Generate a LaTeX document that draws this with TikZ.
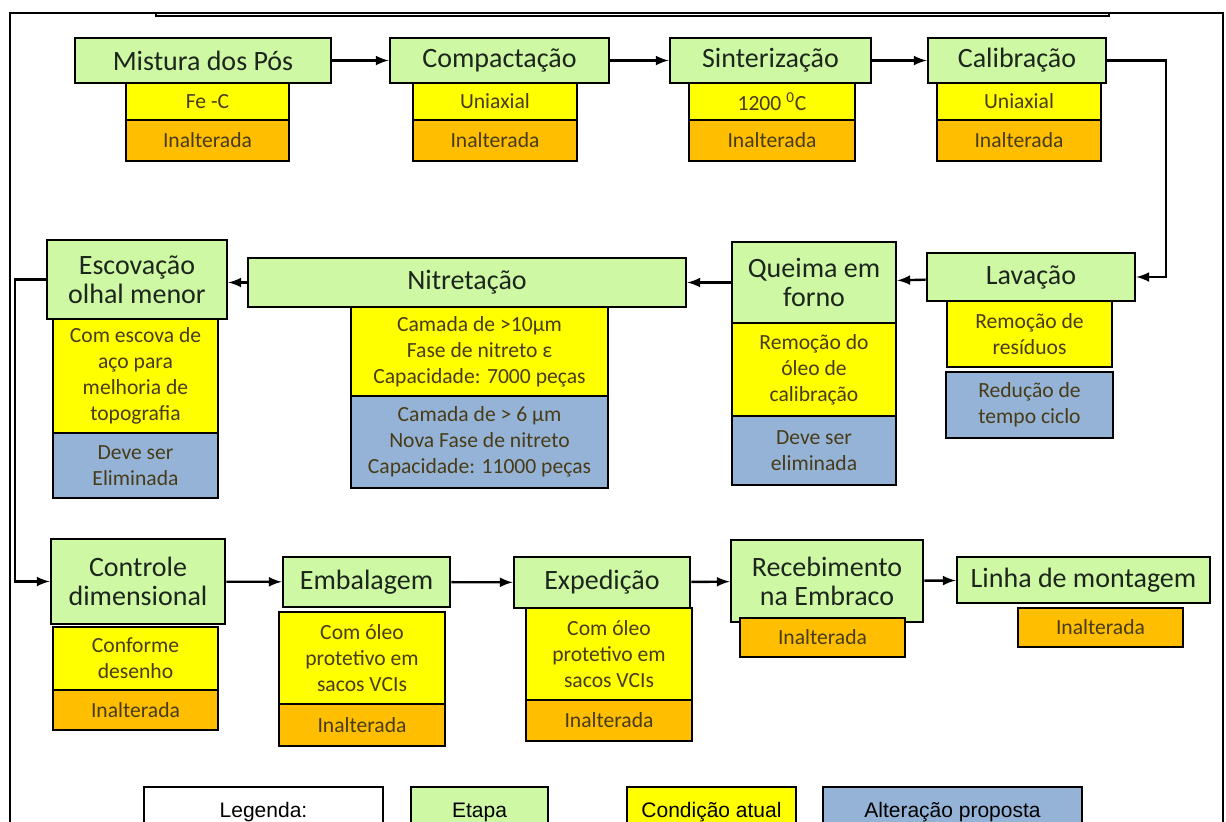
\documentclass[tikz,border=0pt]{standalone}
\usepackage{fontspec}
\setmainfont{Carlito}
\newfontfamily\legfont{Liberation Sans}
\usetikzlibrary{arrows}
\definecolor{etapaverde}{RGB}{206,248,164}
\definecolor{atualamarelo}{RGB}{255,255,0}
\definecolor{inaltlaranja}{RGB}{255,190,0}
\definecolor{propostaazul}{RGB}{149,179,215}
\definecolor{textoescuro}{RGB}{28,38,28}
\definecolor{textosub}{RGB}{72,60,24}

\tikzset{
	sz/.style 2 args={minimum width=#1*0.5pt, minimum height=#2*0.5pt},
	caixa/.style={draw=black, line width=1.3pt, inner sep=1pt, align=center},
	etapa/.style={caixa, fill=etapaverde, text=textoescuro, font=\fontsize{14}{14.5}\selectfont},
	atual/.style={caixa, fill=atualamarelo, text=textosub, font=\fontsize{10.8}{13}\selectfont},
	inalt/.style={caixa, fill=inaltlaranja, text=textosub, font=\fontsize{10.8}{13}\selectfont},
	proposta/.style={caixa, fill=propostaazul, text=textosub, font=\fontsize{10.8}{13}\selectfont},
	legenda/.style={caixa, line width=1.1pt, font=\legfont\fontsize{10.5}{11}\selectfont, text=black}
}

\begin{document}
\begin{tikzpicture}[x=0.5pt, y=-0.5pt, >=latex, line width=1.2pt]
			\useasboundingbox (0,0) rectangle (1226,821);

			% moldura
			\draw[line width=1pt] (10,12.5) rectangle (1223,845);
			\draw[line width=0.8pt] (156,12.5) -- (156,16) -- (1109,16) -- (1109,12.5);

			% linha 1
			\node[etapa, sz={256}{45}] (mistura) at (203,60.5) {Mistura dos Pós};
			\node[atual, sz={163}{37}] (fec) at (207.5,101.5) {Fe -C};
			\node[inalt, sz={163}{41}] (fecIn) at (207.5,140.5) {Inalterada};

			\node[etapa, sz={219}{45}] (compact) at (499.5,60.5) {Compactação};
			\node[atual, sz={164}{37}] (uni1) at (495,101.5) {Uniaxial};
			\node[inalt, sz={164}{41}] (uni1In) at (495,140.5) {Inalterada};

			\node[etapa, sz={201}{45}] (sinter) at (770.5,60.5) {Sinterização};
			\node[atual, sz={166}{37}] (temp) at (772,101.5) {1200 \textsuperscript{0}C};
			\node[inalt, sz={166}{41}] (tempIn) at (772,140.5) {Inalterada};

			\node[etapa, sz={178}{45}] (calib) at (1017,60.5) {Calibração};
			\node[atual, sz={164}{37}] (uni2) at (1019,101.5) {Uniaxial};
			\node[inalt, sz={164}{41}] (uni2In) at (1019,140.5) {Inalterada};

			% linha 2
			\node[etapa, sz={180}{79}] (escov) at (137,279.5) {Escovação\\olhal menor};
			\node[atual, sz={165}{114}] (escYel) at (135.5,376) {Com escova de\\aço para\\melhoria de\\topografia};
			\node[proposta, sz={165}{65}] (escBlue) at (135.5,465.5) {Deve ser\\Eliminada};

			\node[etapa, sz={438}{49}] (nitret) at (467,282.5) {Nitretação};
			\node[atual, sz={257}{89}] (nitYel) at (479.5,351.5) {Camada de >10µm\\Fase de nitreto ε\\Capacidade: 7000 peças};
			\node[proposta, sz={257}{92}] (nitBlue) at (479.5,442) {Camada de > 6 µm\\Nova Fase de nitreto\\Capacidade: 11000 peças};

			\node[etapa, sz={164}{81}] (queima) at (814,282.5) {Queima em\\forno};
			\node[atual, sz={164}{93}] (queYel) at (814,369.5) {Remoção do\\óleo de\\calibração};
			\node[proposta, sz={164}{69}] (queBlue) at (814,450.5) {Deve ser\\eliminada};

			\node[etapa, sz={208}{48}] (lavacao) at (1031,277) {Lavação};
			\node[atual, sz={165}{66}] (lavYel) at (1029.5,334) {Remoção de\\resíduos};
			\node[proposta, sz={167}{66}] (lavBlue) at (1029.5,405) {Redução de\\tempo ciclo};

			% linha 3
			\node[etapa, sz={174}{85}] (controle) at (138,581.5) {Controle\\dimensional};
			\node[atual, sz={165}{63}] (conYel) at (135.5,658.5) {Conforme\\desenho};
			\node[inalt, sz={165}{40}] (conIn) at (135.5,710) {Inalterada};

			\node[etapa, sz={167}{50}] (embal) at (366.5,582) {Embalagem};
			\node[atual, sz={166}{92}] (embYel) at (362,658) {Com óleo\\protetivo em\\sacos VCIs};
			\node[inalt, sz={166}{42}] (embIn) at (362,725) {Inalterada};

			\node[etapa, sz={176}{51}] (exped) at (602,582.5) {Expedição};
			\node[atual, sz={166}{92}] (expYel) at (609,654) {Com óleo\\protetivo em\\sacos VCIs};
			\node[inalt, sz={166}{41}] (expIn) at (609,720.5) {Inalterada};

			\node[etapa, sz={192}{82}] (receb) at (827,581) {Recebimento\\na Embraco};
			\node[inalt, sz={165}{39}] (recIn) at (822.5,637.5) {Inalterada};

			\node[etapa, sz={253}{46}] (linha) at (1083.5,580) {Linha de montagem};
			\node[inalt, sz={165}{39}] (linIn) at (1100.5,627.5) {Inalterada};

			% legenda
			\node[legenda, fill=white, sz={239}{50}] (legTit) at (263.5,812) {Legenda:};
			\node[legenda, fill=etapaverde, sz={137}{50}] (legEtapa) at (479.5,812) {Etapa};
			\node[legenda, fill=atualamarelo, sz={169}{50}] (legAtual) at (711.5,812) {Condição atual};
			\node[legenda, fill=propostaazul, sz={259}{50}] (legProp) at (952.5,812) {Alteração proposta};

			\coordinate (cR) at (1166,60.5);
			\coordinate (cL) at (15,430);

			\foreach \a/\b in {mistura/compact, compact/sinter, sinter/calib, lavacao/queima, queima/nitret, controle/embal, embal/exped, exped/receb, receb/linha}
			\draw[->] (\a) -- (\b);

			\draw[->] (calib.east) -- (cR) |- (lavacao.east);
			\draw[->] (nitret.west) -- (nitret.west -| escov.east);
			\draw[->] (escov.west) -| (cL) |- (controle.west);
		\end{tikzpicture}
\end{document}
